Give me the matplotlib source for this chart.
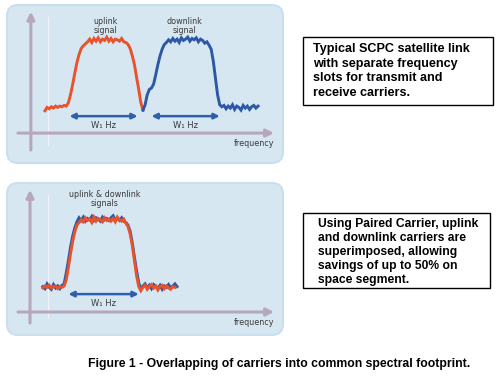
import numpy as np
import matplotlib
matplotlib.use("Agg")
import matplotlib.pyplot as plt
from matplotlib.patches import FancyBboxPatch, Rectangle

# ---------------- data ----------------
# top panel: separate carriers (frequency in arbitrary units, level in arbitrary units)
uplink_start = 0
uplink_level = [-0.4, 0.1, -0.1, 0.2, 0.0, 0.3, 0.1, 0.3, 0.2, 0.4, 0.3, 0.8,
                2.0, 3.5, 5.2, 6.8, 8.0, 8.9, 9.3, 9.6,
                9.9, 10.3, 9.8, 10.4, 10.0, 10.5, 9.9, 10.3, 10.1, 10.6,
                10.0, 10.4, 9.9, 10.3, 10.2, 10.0, 10.4, 9.9, 9.8, 9.5,
                8.9, 7.8, 6.5, 4.6, 2.8, 0.8, -0.3]
downlink_start = 46
downlink_level = [-0.3, 0.5, 2.0, 2.8, 3.0, 3.6, 5.0, 6.5, 7.8, 8.8, 9.5, 9.8,
                  10.2, 9.9, 10.4, 10.0, 10.3, 9.8, 10.5, 10.1, 10.3, 10.6,
                  10.0, 10.4, 10.2, 10.5, 9.9, 10.3, 10.1, 9.7, 9.9, 9.4,
                  8.8, 7.0, 4.5, 2.0, 0.5, 0.2,
                  0.4, -0.1, 0.3, 0.0, 0.5, -0.2, 0.3, 0.1, -0.3, 0.4, 0.0,
                  0.3, -0.2, 0.2, 0.4, 0.0, 0.3]
# bottom panel: paired carriers (superimposed)
paired_start = -1
paired_down_level = [0.2, -0.1, 0.6, 0.1, -0.2, 0.5, 0.0, 0.3, -0.1, 0.4, 0.6,
                     2.2, 4.0, 6.0, 7.6, 8.8, 9.7, 10.3, 9.9,
                     10.4, 9.8, 10.2, 10.0, 10.5, 9.9, 10.3, 10.1, 9.8, 10.4, 10.0,
                     10.2, 9.9, 10.3, 10.6, 10.0, 10.2, 9.9, 10.3, 9.8, 9.6, 9.2,
                     8.3, 6.6, 4.5, 2.5, 0.8, -0.2,
                     0.3, 0.6, 0.0, 0.4, -0.1, 0.5, 0.2, 0.0, 0.4, -0.2, 0.3, 0.1,
                     0.5, 0.0, 0.3, 0.6, 0.2]
paired_up_level = [0.0, 0.3, 0.1, 0.4, 0.0, 0.2, 0.3, -0.1, 0.2, 0.1, 0.3,
                   1.2, 3.0, 5.0, 6.8, 8.2, 9.2, 9.6, 10.0,
                   9.7, 10.3, 9.9, 10.1, 9.6, 10.4, 9.8, 10.2, 10.0, 9.7, 10.3,
                   9.9, 10.1, 9.8, 10.2, 9.7, 10.4, 10.0, 9.8, 10.1, 9.5, 9.0,
                   7.9, 6.2, 4.0, 1.8, 0.2, -0.4,
                   0.1, 0.4, -0.2, 0.2, 0.5, 0.0, 0.3, -0.3, 0.2, 0.4, -0.1, 0.3,
                   0.0, -0.2, 0.2, 0.1]
# bandwidth markers (frequency span of each W1 arrow)
top_bands = [(11.5, 43.5), (50.0, 82.0)]
bottom_bands = [(11.0, 44.0)]

top_labels = ["uplink\nsignal", "downlink\nsignal"]
top_label_pos = [28.5, 65.5]
bottom_label = "uplink & downlink\nsignals"
bottom_label_pos = 28.0

box1_text = "Typical SCPC satellite link\nwith separate frequency\nslots for transmit and\nreceive carriers."
box2_text = "Using Paired Carrier, uplink\nand downlink carriers are\nsuperimposed, allowing\nsavings of up to 50% on\nspace segment."
caption = "Figure 1 - Overlapping of carriers into common spectral footprint."

# ---------------- style ----------------
RED = "#e8532b"
BLUE = "#2d58a6"
ARROW_BLUE = "#2f5fac"
PANEL = "#d7e7f2"
PANEL_EDGE = "#cadfee"
AXIS = "#b7a7be"
TXT = "#3a3a3a"

W, H = 504, 383
fig = plt.figure(figsize=(W / 100, H / 100), dpi=100)


def px_axes(x0, y0, x1, y1):
    return fig.add_axes([x0 / W, 1 - y1 / H, (x1 - x0) / W, (y1 - y0) / H])


def panel(ax, wpx, hpx):
    ax.set_axis_off()
    p = FancyBboxPatch((0, 0), 1, 1, boxstyle="round,pad=0,rounding_size=0.04",
                       mutation_aspect=wpx / hpx, transform=ax.transAxes,
                       facecolor=PANEL, edgecolor=PANEL_EDGE, lw=1.5,
                       clip_on=False, zorder=0)
    ax.add_patch(p)


def xs(start, vals):
    return start + np.arange(len(vals))


def draw_axes_arrows(ax, x_axis_y, y_axis_x, ybot, ytop, xleft, xright, white_x):
    ax.plot([white_x, white_x], [ybot + 0.8, ytop - 0.8], color="#eef4f9", lw=0.8, zorder=1)
    ax.annotate("", xy=(xright, x_axis_y), xytext=(xleft, x_axis_y),
                arrowprops=dict(arrowstyle="-|>", color=AXIS, lw=2.2,
                                mutation_scale=11, shrinkA=0, shrinkB=0), zorder=2)
    ax.annotate("", xy=(y_axis_x, ytop), xytext=(y_axis_x, ybot),
                arrowprops=dict(arrowstyle="-|>", color=AXIS, lw=2.2,
                                mutation_scale=11, shrinkA=0, shrinkB=0), zorder=2)


def band_arrow(ax, f0, f1, y, ylab):
    ax.annotate("", xy=(f1, y), xytext=(f0, y),
                arrowprops=dict(arrowstyle="<|-|>", color=ARROW_BLUE, lw=1.8,
                                mutation_scale=8, shrinkA=0, shrinkB=0), zorder=3)
    ax.text((f0 + f1) / 2, ylab, "W\u2081 Hz", ha="center", va="center",
            fontsize=6, color=TXT)


# ---------- top panel ----------
ax1 = px_axes(7, 5, 283, 163)
panel(ax1, 276, 158)
ax1.set_xlim(-17.8, 111.7)
ax1.set_ylim(-8.2, 15.4)
draw_axes_arrows(ax1, -3.73, -6.6, -6.27, 14.4, -12.7, 107.5, 1.4)
ax1.plot(xs(uplink_start, uplink_level), uplink_level, color=RED, lw=2.1,
         solid_joinstyle="miter", zorder=4)
ax1.plot(xs(downlink_start, downlink_level), downlink_level, color=BLUE, lw=2.1,
         solid_joinstyle="miter", zorder=4)
for (f0, f1) in top_bands:
    band_arrow(ax1, f0, f1, -1.2, -2.55)
for lab, xp in zip(top_labels, top_label_pos):
    ax1.text(xp, 12.3, lab, ha="center", va="center", fontsize=5.8, color=TXT,
             linespacing=1.0)
ax1.text(107.5, -5.3, "frequency", ha="right", va="center", fontsize=5.8, color=TXT)

# ---------- bottom panel ----------
ax2 = px_axes(7, 183, 283, 335)
panel(ax2, 276, 152)
ax2.set_xlim(-17.8, 111.7)
ax2.set_ylim(-6.9, 15.4)
draw_axes_arrows(ax2, -3.53, -7.0, -5.15, 14.4, -12.7, 107.5, 1.4)
ax2.plot(xs(paired_start, paired_down_level), paired_down_level, color=BLUE, lw=2.1,
         solid_joinstyle="miter", zorder=4)
ax2.plot(xs(paired_start, paired_up_level), paired_up_level, color=RED, lw=2.1,
         solid_joinstyle="miter", zorder=5)
for (f0, f1) in bottom_bands:
    band_arrow(ax2, f0, f1, -0.9, -2.3)
ax2.text(bottom_label_pos, 13.0, bottom_label, ha="center", va="center",
         fontsize=5.8, color=TXT, linespacing=1.0)
ax2.text(107.5, -5.0, "frequency", ha="right", va="center", fontsize=5.8, color=TXT)

# ---------- text boxes ----------
for (x0, y0, x1, y1) in [(303, 37, 493, 105), (303, 213, 490, 288)]:
    fig.patches.append(Rectangle((x0 / W, 1 - y1 / H), (x1 - x0) / W, (y1 - y0) / H,
                                 transform=fig.transFigure, facecolor="white",
                                 edgecolor="black", lw=1.0, zorder=1))

fig.text(313 / W, 1 - 43 / H, box1_text, ha="left", va="top", fontsize=9.1,
         fontweight="bold", family="Liberation Sans", linespacing=1.3, color="black")
fig.text(318 / W, 1 - 218 / H, box2_text, ha="left", va="top", fontsize=8.7,
         fontweight="bold", family="Liberation Sans", linespacing=1.22, color="black")

fig.text(88 / W, 1 - 364 / H, caption, ha="left", va="center", fontsize=8.8,
         fontweight="bold", family="Liberation Sans", color="black")

fig.savefig("out.png", dpi=100, facecolor="white")
